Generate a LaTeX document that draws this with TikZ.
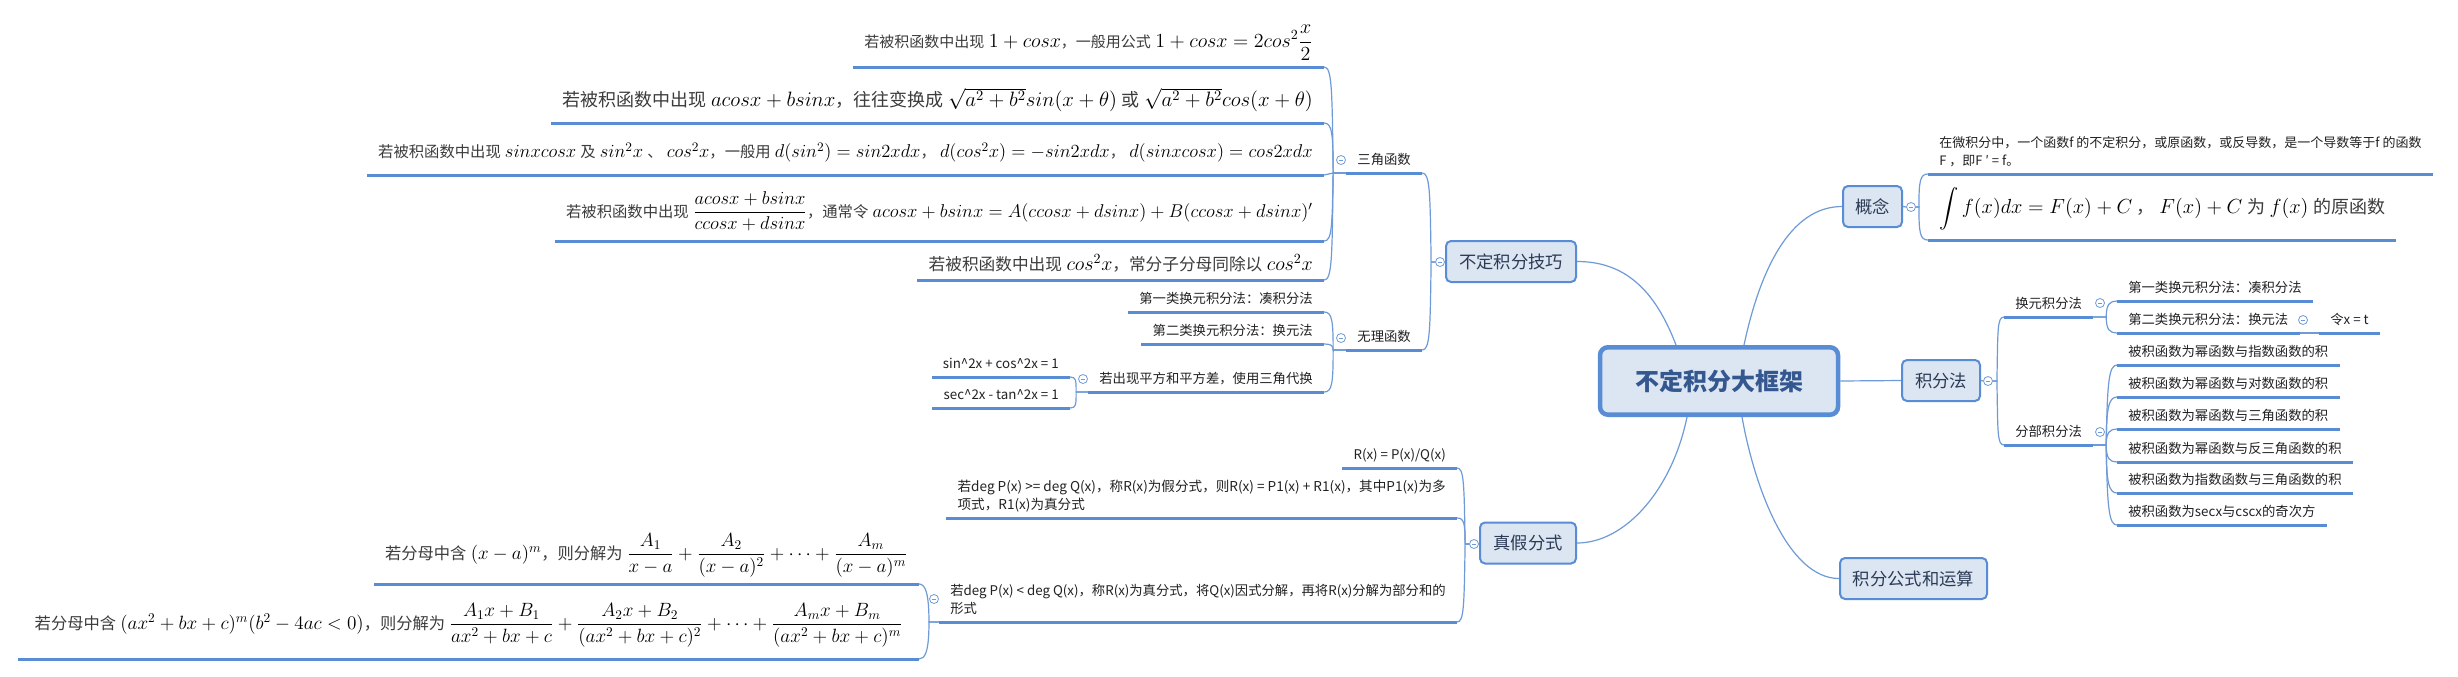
\RequirePackage{fix-cm}
\documentclass[tikz,border=0pt]{standalone}
\usepackage{amsmath}
\usepackage[no-math]{fontspec}
\setmainfont{Noto Sans CJK SC}
\usetikzlibrary{backgrounds}
\definecolor{lineblue}{HTML}{588DD5}
\definecolor{connblue}{HTML}{6E9BD8}
\definecolor{boxfill}{HTML}{DCE6F2}
\definecolor{boxtext}{HTML}{2B3A55}
\definecolor{maintext}{HTML}{34578F}
\definecolor{leaftext}{HTML}{222222}
\definecolor{fmltext}{HTML}{3C3C3C}
\newcommand\zhs[2]{{\fontsize{#1}{#1}\selectfont\color{fmltext}#2}}
\newcommand\twolines[2]{\vbox{\baselineskip=13.5pt\hbox{#1}\hbox{#2}}}
\tikzset{
  uline/.style={line width=2.25pt, draw=lineblue},
  conn/.style={line width=0.9pt, draw=connblue},
  topbox/.style={draw=lineblue, line width=1.5pt, fill=boxfill, rounded corners=3.75pt, text=boxtext, font=\fontsize{13pt}{13pt}\selectfont, inner sep=0pt, minimum height=30.75pt},
  rootbox/.style={draw=lineblue, line width=3.4pt, fill=boxfill, rounded corners=6pt, text=maintext, font=\fontsize{18pt}{18pt}\selectfont\bfseries, inner sep=0pt, minimum width=178.5pt, minimum height=50.6pt},
  leaf/.style={inner xsep=8.25pt, inner ysep=0pt, text=leaftext, font=\fontsize{10pt}{13.5pt}\selectfont, text depth=6pt},
  leafL/.style={leaf, anchor=south east},
  leafR/.style={leaf, anchor=south west},
  fml/.style={text=black},
  tog/.style={circle, draw=connblue, fill=white, line width=0.6pt, minimum size=6.75pt, inner sep=0pt,
    path picture={\draw[connblue, line width=0.6pt] ([xshift=-1.7pt]path picture bounding box.center) -- ([xshift=1.7pt]path picture bounding box.center);}},
}
\begin{document}
\begin{tikzpicture}[x=0.75pt, y=-0.75pt]
\useasboundingbox (0,0) rectangle (2458,676);

% ---------- main boxes ----------
\node[rootbox] (root) at (1719,381) {不定积分大框架};
\node[topbox, minimum width=97.5pt] (jq) at (1511,261.5) {不定积分技巧};
\node[topbox, minimum width=44.25pt] (gn) at (1872.5,206.5) {概念};
\node[topbox, minimum width=58.5pt] (jff) at (1941,380.5) {积分法};
\node[topbox, minimum width=110.25pt] (gs) at (1913.5,578.5) {积分公式和运算};
\node[topbox, minimum width=72pt] (zj) at (1528,543) {真假分式};

% ---------- toggles ----------
\node[tog] (tjq) at (1440,262) {};
\node[tog] (tgn) at (1911,207) {};
\node[tog] (tjff) at (1988,381) {};
\node[tog] (tzj) at (1474,544) {};
\node[tog] (tsj) at (1341,160) {};
\node[tog] (twl) at (1341,338) {};
\node[tog] (twl3) at (1083,379) {};
\node[tog] (tzj3) at (934,599) {};
\node[tog] (thy) at (2100,303) {};
\node[tog] (tfb) at (2100,432) {};
\node[tog] (thy2) at (2303,320) {};

% ---------- right side leaves ----------
\node[leafR, font=\fontsize{9.75pt}{13.5pt}\selectfont] (gnt) at (1928,174) {\twolines{在微积分中，一个函数f 的不定积分，或原函数，或反导数，是一个导数等于f 的函数}{F ，即F ′ = f。}};
\node[leafR, fml, text depth=19.5pt, font=\fontsize{15.3pt}{15.3pt}\selectfont] (gnf) at (1928,240)
  {$\displaystyle\int f(x)dx=F(x)+C$ \zhs{13.5pt}{，} $F(x)+C$ \zhs{13.5pt}{为} $f(x)$ \zhs{13.5pt}{的原函数}};
\node[leafR] (hy) at (2004,317) {换元积分法};
\node[leafR] (fb) at (2004,445) {分部积分法};
\node[leafR] (hy1) at (2117,301) {第一类换元积分法：凑积分法};
\node[leafR] (hy2) at (2117,333) {第二类换元积分法：换元法};
\node[leafR] (hy2a) at (2319,333) {令x = t};
\node[leafR] (fb1) at (2117,365) {被积函数为幂函数与指数函数的积};
\node[leafR] (fb2) at (2117,397) {被积函数为幂函数与对数函数的积};
\node[leafR] (fb3) at (2117,429) {被积函数为幂函数与三角函数的积};
\node[leafR] (fb4) at (2117,462) {被积函数为幂函数与反三角函数的积};
\node[leafR] (fb5) at (2117,493) {被积函数为指数函数与三角函数的积};
\node[leafR] (fb6) at (2117,525) {被积函数为secx与cscx的奇次方};

% ---------- left side leaves ----------
\node[leafL] (sj) at (1422,173) {三角函数};
\node[leafL] (wl) at (1422,350) {无理函数};
\node[leafL, fml, text depth=14.7pt, font=\fontsize{15pt}{15pt}\selectfont] (sj1) at (1324,67)
  {\zhs{11.25pt}{若被积函数中出现} $1+cosx$\zhs{11.25pt}{，一般用公式} $1+cosx=2cos^2\dfrac{x}{2}$};
\node[leafL, fml, text depth=12pt, font=\fontsize{15.6pt}{15.6pt}\selectfont] (sj2) at (1324,123)
  {\zhs{13.5pt}{若被积函数中出现} $acosx+bsinx$\zhs{13.5pt}{，往往变换成} $\sqrt{a^2+b^2}sin(x+\theta)$ \zhs{13.5pt}{或} $\sqrt{a^2+b^2}cos(x+\theta)$};
\node[leafL, fml, text depth=12.75pt, font=\fontsize{13.9pt}{13.9pt}\selectfont] (sj3) at (1324,175)
  {\zhs{11.5pt}{若被积函数中出现} $sinxcosx$ \zhs{11.5pt}{及} $sin^2x$ \zhs{11.5pt}{、} $cos^2x$\zhs{11.5pt}{，一般用} $d(sin^2)=sin2xdx$\zhs{11.5pt}{，} $d(cos^2x)=-sin2xdx$\zhs{11.5pt}{，} $d(sinxcosx)=cos2xdx$};
\node[leafL, fml, text depth=17.7pt, font=\fontsize{13.9pt}{13.9pt}\selectfont] (sj4) at (1324,241)
  {\zhs{11.5pt}{若被积函数中出现} $\dfrac{acosx+bsinx}{ccosx+dsinx}$\zhs{11.5pt}{，通常令} $acosx+bsinx=A(ccosx+dsinx)+B(ccosx+dsinx)'$};
\node[leafL, fml, text depth=7pt, font=\fontsize{15pt}{15pt}\selectfont] (sj5) at (1324,280)
  {\zhs{12.5pt}{若被积函数中出现} $cos^2x$\zhs{12.5pt}{，常分子分母同除以} $cos^2x$};
\node[leafL] (wl1) at (1324,312) {第一类换元积分法：凑积分法};
\node[leafL] (wl2) at (1324,344) {第二类换元积分法：换元法};
\node[leafL] (wl3) at (1324,392) {若出现平方和平方差，使用三角代换};
\node[leafL] (wl3a) at (1070,377) {sin\textasciicircum 2x + cos\textasciicircum 2x = 1};
\node[leafL] (wl3b) at (1070,408) {sec\textasciicircum 2x - tan\textasciicircum 2x = 1};
\node[leafL] (zj1) at (1457,468) {R(x) = P(x)/Q(x)};
\node[leafL, font=\fontsize{10.2pt}{13.5pt}\selectfont] (zj2) at (1457,518) {\twolines{若deg P(x) >= deg Q(x)，称R(x)为假分式，则R(x) = P1(x) + R1(x)，其中P1(x)为多}{项式，R1(x)为真分式}};
\node[leafL] (zj3) at (1457,622) {\twolines{若deg P(x) < deg Q(x)，称R(x)为真分式，将Q(x)因式分解，再将R(x)分解为部分和的}{形式}};
\node[leafL, fml, text depth=18.5pt, font=\fontsize{14.3pt}{14.3pt}\selectfont] (zj3a) at (919,584)
  {\zhs{12.2pt}{若分母中含} $(x-a)^m$\zhs{12.2pt}{，则分解为} $\dfrac{A_1}{x-a}+\dfrac{A_2}{(x-a)^2}+\cdots+\dfrac{A_m}{(x-a)^m}$};
\node[leafL, fml, text depth=22.2pt, inner xsep=12pt, font=\fontsize{14.4pt}{14.4pt}\selectfont] (zj3b) at (919,659)
  {\zhs{12.2pt}{若分母中含} $(ax^2+bx+c)^m(b^2-4ac<0)$\zhs{12.2pt}{，则分解为} $\dfrac{A_1x+B_1}{ax^2+bx+c}+\dfrac{A_2x+B_2}{(ax^2+bx+c)^2}+\cdots+\dfrac{A_mx+B_m}{(ax^2+bx+c)^m}$};

% ---------- background: white, connectors, underlines ----------
\begin{scope}[on background layer]
\fill[white] (0,0) rectangle (2458,676);
% root connectors
\draw[conn] ([xshift=-32.25pt]root.north) .. controls +(-21,-55) and +(48,0) .. (jq.east);
\draw[conn] ([xshift=18.75pt]root.north) .. controls +(16,-75) and +(-52,0) .. (gn.west);
\draw[conn] (root.east) -- (jff.west);
\draw[conn] ([xshift=17.25pt]root.south) .. controls +(13,73) and +(-50,0) .. (gs.west);
\draw[conn] ([xshift=-24pt]root.south) .. controls +(-15,73) and +(48,0) .. (zj.east);
% box to toggle
\draw[conn] (jq.west) -- (tjq.east);
\draw[conn] (gn.east) -- (tgn.west);
\draw[conn] (jff.east) -- (tjff.west);
\draw[conn] (zj.west) -- (tzj.east);
% 不定积分技巧
\draw[conn] (tjq.west) -- ++(-4,0) .. controls +(-1,-71) and +(8,0) .. (sj.south east);
\draw[conn] (tjq.west) -- ++(-4,0) .. controls +(-1,70) and +(8,0) .. (wl.south east);
% 概念
\draw[conn] (tgn.east) -- ++(3,0) .. controls +(0,-26) and +(-8,0) .. (gnt.south west);
\draw[conn] (tgn.east) -- ++(3,0) .. controls +(0,26) and +(-8,0) .. (gnf.south west);
% 积分法
\draw[conn] (tjff.east) -- ++(4,0) .. controls +(1,-51) and +(-7,0) .. (hy.south west);
\draw[conn] (tjff.east) -- ++(4,0) .. controls +(1,51) and +(-7,0) .. (fb.south west);
% 真假分式
\draw[conn] (tzj.west) -- ++(-4,0) .. controls +(-1,-61) and +(7,0) .. (zj1.south east);
\draw[conn] (tzj.west) -- ++(-4,0) .. controls +(0,-21) and +(7,0) .. (zj2.south east);
\draw[conn] (tzj.west) -- ++(-4,0) .. controls +(-1,62) and +(7,0) .. (zj3.south east);
% 三角函数
\draw[conn] (sj.south west) -- ++(-13,0) .. controls +(-1,-85) and +(8,0) .. (sj1.south east);
\draw[conn] (sj.south west) -- ++(-13,0) .. controls +(0,-40) and +(8,0) .. (sj2.south east);
\draw[conn] (sj.south west) -- ++(-13,0) .. controls +(-3,0) and +(3,0) .. (sj3.south east);
\draw[conn] (sj.south west) -- ++(-13,0) .. controls +(-1,54) and +(8,0) .. (sj4.south east);
\draw[conn] (sj.south west) -- ++(-13,0) .. controls +(-1,86) and +(8,0) .. (sj5.south east);
% 无理函数
\draw[conn] (wl.south west) -- ++(-13,0) .. controls +(0,-30) and +(8,0) .. (wl1.south east);
\draw[conn] (wl.south west) -- ++(-13,0) .. controls +(0,-5) and +(6,0) .. (wl2.south east);
\draw[conn] (wl.south west) -- ++(-13,0) .. controls +(0,34) and +(8,0) .. (wl3.south east);
\draw[conn] (wl3.south west) -- ++(-12,0) .. controls +(0,-12) and +(6,0) .. (wl3a.south east);
\draw[conn] (wl3.south west) -- ++(-12,0) .. controls +(0,13) and +(6,0) .. (wl3b.south east);
% 真分式 item
\draw[conn] (zj3.south west) -- ++(-10,0) .. controls +(0,-30) and +(6,0) .. (zj3a.south east);
\draw[conn] (zj3.south west) -- ++(-10,0) .. controls +(0,30) and +(6,0) .. (zj3b.south east);
% 换元积分法
\draw[conn] (hy.south east) -- ++(13,0) .. controls +(0,-13) and +(-7,0) .. (hy1.south west);
\draw[conn] (hy.south east) -- ++(13,0) .. controls +(0,13) and +(-7,0) .. (hy2.south west);
\draw[conn] (hy2.south east) -- (hy2a.south west);
% 分部积分法
\draw[conn] (fb.south east) -- ++(13,0) .. controls +(1,-64) and +(-8,0) .. (fb1.south west);
\draw[conn] (fb.south east) -- ++(13,0) .. controls +(0,-38) and +(-8,0) .. (fb2.south west);
\draw[conn] (fb.south east) -- ++(13,0) .. controls +(0,-13) and +(-7,0) .. (fb3.south west);
\draw[conn] (fb.south east) -- ++(13,0) .. controls +(0,14) and +(-7,0) .. (fb4.south west);
\draw[conn] (fb.south east) -- ++(13,0) .. controls +(0,38) and +(-8,0) .. (fb5.south west);
\draw[conn] (fb.south east) -- ++(13,0) .. controls +(1,64) and +(-8,0) .. (fb6.south west);
% underlines
\foreach \n in {gnt,gnf,hy,fb,hy1,hy2,hy2a,fb1,fb2,fb3,fb4,fb5,fb6,sj,wl,sj1,sj2,sj3,sj4,sj5,wl1,wl2,wl3,wl3a,wl3b,zj1,zj2,zj3,zj3a,zj3b}
  \draw[uline] (\n.south west) -- (\n.south east);
\end{scope}
\end{tikzpicture}
\end{document}
